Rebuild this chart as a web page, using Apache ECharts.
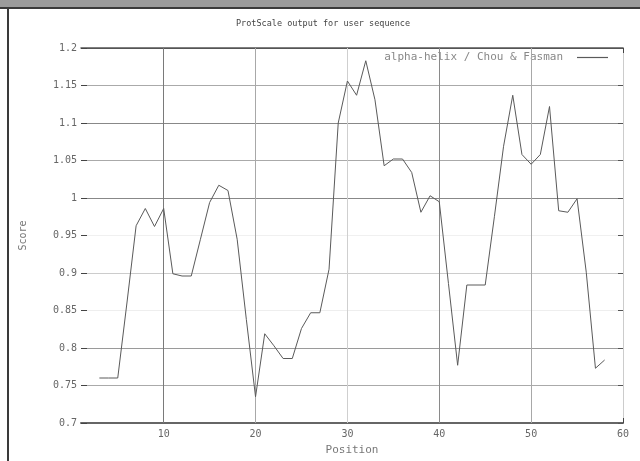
<!DOCTYPE html>
<html>
<head>
<meta charset="utf-8">
<script src="https://cdn.jsdelivr.net/npm/echarts@6/dist/echarts.min.js"></script>
<style>
html,body{margin:0;padding:0;background:#fff;}
#chart{width:640px;height:461px;}
</style>
</head>
<body>
<div id="chart"></div>
<script>
// ---- data ----
const positions = [3,4,5,6,7,8,9,10,11,12,13,14,15,16,17,18,19,20,21,22,23,24,25,26,27,28,29,30,
  31,32,33,34,35,36,37,38,39,40,41,42,43,44,45,46,47,48,49,50,51,52,53,54,55,56,57,58];
const scores = [0.760,0.760,0.760,0.860,0.963,0.986,0.962,0.986,0.899,0.896,0.896,0.945,0.994,1.017,
  1.010,0.945,0.838,0.735,0.819,0.803,0.786,0.786,0.826,0.847,0.847,0.905,1.100,1.156,1.137,1.183,
  1.131,1.043,1.052,1.052,1.034,0.981,1.003,0.995,0.886,0.777,0.884,0.884,0.884,0.975,1.069,1.137,
  1.058,1.045,1.058,1.122,0.983,0.981,0.999,0.901,0.773,0.784];
const xTicks = [10,20,30,40,50,60];
const xGrid = [10,20,30,40,50];
const seriesName = 'alpha-helix / Chou & Fasman';
const titleText = 'ProtScale output for user sequence';

// ---- styles ----
const mono = 'DejaVu Sans Mono';
const xGridColors = ['#7a7a7a','#a8a8a8','#cfcfcf','#8a8a8a','#a8a8a8'];
const yGridColors = ['#666','#aaaaaa','#9a9a9a','#eeeeee','#cccccc','#f0f0f0','#888888','#aaaaaa','#888888','#aaaaaa','#555'];

const chart = echarts.init(document.getElementById('chart'), null, {renderer:'canvas'});
chart.setOption({
  animation:false,
  backgroundColor:'#fff',
  title:{text:titleText,left:318,top:14,textAlign:'center',
    textStyle:{fontFamily:mono,fontSize:8.5,fontWeight:'normal',color:'#444'}},
  legend:{right:32,top:52,align:'right',padding:0,icon:'rect',itemWidth:31,itemHeight:1.2,itemGap:0,
    textStyle:{fontFamily:mono,fontSize:11,color:'#888',padding:[0,9,0,0]},
    data:[seriesName]},
  grid:{left:81,right:17,top:48,bottom:36,containLabel:false},
  xAxis:[{
    type:'value',min:1,max:60,position:'bottom',
    name:'Position',nameLocation:'middle',nameGap:22,
    nameTextStyle:{fontFamily:mono,fontSize:11,color:'#777'},
    axisLine:{show:true,onZero:false,lineStyle:{color:'#666',width:2}},
    axisTick:{show:true,inside:true,length:5,customValues:xTicks,lineStyle:{color:'#444'}},
    axisLabel:{customValues:xTicks,margin:6,fontFamily:mono,fontSize:10,color:'#666'},
    splitLine:{show:false}
  },{
    type:'value',min:1,max:60,position:'top',
    axisLine:{show:true,onZero:false,lineStyle:{color:'#555',width:1.5}},
    axisTick:{show:true,inside:true,length:5,customValues:xTicks,lineStyle:{color:'#444'}},
    axisLabel:{show:false},splitLine:{show:false}
  }],
  yAxis:[{
    type:'value',min:0.7,max:1.2,interval:0.05,position:'left',
    name:'Score',nameLocation:'middle',nameGap:53,nameRotate:90,
    nameTextStyle:{fontFamily:mono,fontSize:10,color:'#777'},
    axisLine:{show:false},
    axisTick:{show:true,inside:true,length:6,lineStyle:{color:'#444'}},
    axisLabel:{margin:4,fontFamily:mono,fontSize:10,color:'#666'},
    splitLine:{show:true,lineStyle:{color:yGridColors,width:1}}
  },{
    type:'value',min:0.7,max:1.2,interval:0.05,position:'right',
    axisLine:{show:true,lineStyle:{color:'#cccccc',width:1}},
    axisTick:{show:true,inside:true,length:5,lineStyle:{color:'#555'}},
    axisLabel:{show:false},splitLine:{show:false}
  }],
  series:[{
    name:seriesName,type:'line',xAxisIndex:0,yAxisIndex:0,
    data:positions.map((p,i)=>[p,scores[i]]),
    symbol:'none',lineStyle:{color:'#5a5a5a',width:1},itemStyle:{color:'#5a5a5a'},
    markLine:{silent:true,symbol:'none',label:{show:false},animation:false,
      data:xGrid.map((v,i)=>({xAxis:v,lineStyle:{color:xGridColors[i],width:1,type:'solid'}}))},
    z:5
  }],
  graphic:[
    {type:'rect',shape:{x:0,y:0,width:640,height:8},style:{fill:'#9b9b9b'},z:100},
    {type:'rect',shape:{x:0,y:7,width:640,height:2},style:{fill:'#3a3a3a'},z:100},
    {type:'rect',shape:{x:7,y:7,width:2,height:454},style:{fill:'#3a3a3a'},z:100}
  ]
});
</script>
</body>
</html>
